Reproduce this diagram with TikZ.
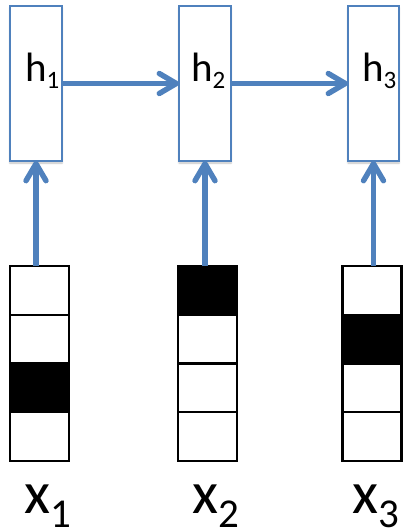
\documentclass[tikz,border=0pt]{standalone}
\usepackage{fontspec}
\setmainfont{Carlito}
\usetikzlibrary{arrows.meta,shadows.blur}
\definecolor{rnnblue}{HTML}{4F81BD}
\tikzset{
  hidbox/.style={draw=rnnblue, line width=2pt, fill=white, rectangle, inner sep=0pt, outer sep=0pt,
    minimum width=52pt, minimum height=155pt,
    blur shadow={shadow xshift=0pt, shadow yshift=-2pt, shadow blur steps=4, shadow opacity=25}},
  cell/.style={draw=black, line width=2.2pt, rectangle, inner sep=0pt, outer sep=0pt,
    minimum width=59pt, minimum height=48.75pt},
  oncell/.style={cell, fill=black},
  offcell/.style={cell, fill=white},
  flow/.style={draw=rnnblue, line width=5.4pt,
    -{Straight Barb[length=17pt, width=20pt, round]}},
  hlab/.style={anchor=base west, inner sep=0pt, font=\fontsize{41}{44}\selectfont},
  xlab/.style={anchor=base west, inner sep=0pt, font=\fontsize{60}{62}\selectfont},
}
\newcommand{\hsub}[1]{\raisebox{-6pt}{\fontsize{25}{28}\selectfont #1}}
\newcommand{\xsub}[1]{\raisebox{-14pt}[\height][14pt]{\fontsize{41}{43}\selectfont #1}}
\begin{document}
\begin{tikzpicture}[x=1pt, y=-1pt]
  \useasboundingbox (0,0) rectangle (402,532);

  % hidden state boxes
  \node[hidbox] (h1) at (36,83.5) {};
  \node[hidbox] (h2) at (205,83.5) {};
  \node[hidbox, minimum width=51pt] (h3) at (373.5,83.5) {};

  % one-hot input vectors, four cells each
  \begin{scope}
    \node[offcell] (x1a) at (39.5,290.4) {};
    \node[offcell] (x1b) at (39.5,339.1) {};
    \node[oncell]  (x1c) at (39.5,387.9) {};
    \node[offcell] (x1d) at (39.5,436.6) {};

    \node[oncell]  (x2a) at (207.5,290.4) {};
    \node[offcell] (x2b) at (207.5,339.1) {};
    \node[offcell] (x2c) at (207.5,387.9) {};
    \node[offcell] (x2d) at (207.5,436.6) {};

    \node[offcell] (x3a) at (372,290.4) {};
    \node[oncell]  (x3b) at (372,339.1) {};
    \node[offcell] (x3c) at (372,387.9) {};
    \node[offcell] (x3d) at (372,436.6) {};
  \end{scope}

  % recurrent connections
  \draw[flow] (h1.east) -- (h2.west);
  \draw[flow] (h2.east) -- (h3.west);

  % input connections
  \draw[flow] (h1.south |- x1a.north) -- (h1.south);
  \draw[flow] (h2.south |- x2a.north) -- (h2.south);
  \draw[flow] (h3.south |- x3a.north) -- (h3.south);

  % labels
  \node[hlab] (lh1) at (25,82) {h\hsub{1}};
  \node[hlab] (lh2) at (191,82) {h\hsub{2}};
  \node[hlab] (lh3) at (362,82) {h\hsub{3}};

  \node[xlab] (lx1) at (24,513) {x\xsub{1}};
  \node[xlab] (lx2) at (192,513) {x\xsub{2}};
  \node[xlab] (lx3) at (352,513) {x\xsub{3}};
\end{tikzpicture}
\end{document}
